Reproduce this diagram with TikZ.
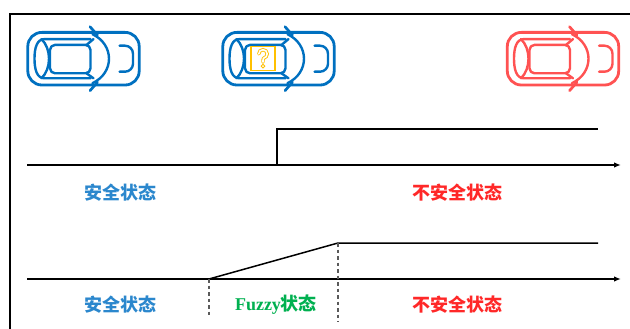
\documentclass[tikz,border=0pt]{standalone}
\usepackage{fontspec}
\setmainfont{Liberation Serif}
\newfontfamily\cjk{Noto Sans CJK SC}
\usetikzlibrary{arrows.meta}

\definecolor{carblue}{RGB}{0,112,192}
\definecolor{carred}{RGB}{255,82,82}
\definecolor{safeblue}{RGB}{43,135,205}
\definecolor{unsafered}{RGB}{255,40,40}
\definecolor{fuzzygreen}{RGB}{0,176,80}
\definecolor{qyellow}{RGB}{255,192,0}
\definecolor{dashgray}{RGB}{90,90,90}

\tikzset{
  % top view of a car, facing right, centred on the pic origin
  pics/car/.style={code={
    \begin{scope}[draw=#1, line cap=round, line join=round]
      % body
      \draw[line width=2.8pt, rounded corners=14pt] (-55.7,-26.3) rectangle (55.7,26.3);
      % inner side line wrapping round the rear
      \draw[line width=2.4pt] (7,-19.6) -- (-39,-19.6)
        .. controls (-46.5,-19.6) and (-49,-11) .. (-49,0)
        .. controls (-49,11) and (-46.5,19.6) .. (-39,19.6) -- (7,19.6);
      % rear window
      \draw[line width=2.4pt] (-42,-19.6) .. controls (-32,-10) and (-32,10) .. (-42,19.6);
      % roof
      \draw[line width=2.4pt, rounded corners=5pt] (-33.5,-13.8) rectangle (7,14.6);
      % A-pillars
      \draw[line width=2.4pt] (3,-13.8) -- (10,-19.6);
      \draw[line width=2.4pt] (3,14.6) -- (10,19.6);
      % windscreen
      \draw[line width=2.4pt] (9,-24.5) .. controls (31,-14) and (31,14) .. (9,24.5);
      % mirrors
      \draw[line width=2.7pt] (6.5,-32) -- (14,-23.5);
      \draw[line width=2.7pt] (6.5,32) -- (14,23.5);
      % bonnet
      \draw[line width=2.4pt, rounded corners=8pt] (36,-13) -- (49.5,-13) -- (49.5,13) -- (36,13);
    \end{scope}
  }},
  axisline/.style={line width=2.2pt, -{Latex[length=7pt,width=5.5pt]}},
  signal/.style={line width=1.5pt, line join=miter},
  guide/.style={draw=dashgray, line width=1.2pt, dash pattern=on 3.5pt off 3pt},
  statetext/.style={font=\cjk\bfseries\fontsize{18}{20}\selectfont, inner sep=0pt},
  qmark/.style={draw=qyellow, double=white, line width=0.9pt, double distance=1.6pt, line cap=round}
}

\begin{document}
\begin{tikzpicture}[x=1pt, y=-1pt]
  \useasboundingbox (0,0) rectangle (630,329);
  \clip (0,0) rectangle (630,329);

  % frame
  \coordinate (fbl) at (10,340);
  \coordinate (ftl) at (10,13.8);
  \coordinate (ftr) at (640,13.8);
  \draw[line width=2.5pt] (fbl) -- (ftl) -- (ftr);

  % cars
  \pic (carA) at (83.5,58.7) {car=carblue};
  \pic (carB) at (278.5,58.7) {car=carblue};
  \pic (carC) at (563,58.7) {car=carred};

  % uncertain driver marker
  \node (qbox) [draw=qyellow, line width=1.3pt, minimum size=24pt, inner sep=0pt, fill=white] at (263,58.5) {};
  \begin{scope}[shift={(qbox.center)}]
    \draw[qmark] (-4.2,-4.6) arc[start angle=180, end angle=400, radius=4.2]
      .. controls (0,0) .. (0,3.6);
    \draw[draw=qyellow, line width=0.9pt, fill=white] (0,7.6) circle[radius=1.8];
  \end{scope}

  % upper timeline: hard switch
  \coordinate (a1s) at (27,165);
  \coordinate (a1e) at (621,165);
  \coordinate (s1) at (277,165);
  \coordinate (s2) at (598,129);
  \draw[axisline] (a1s) -- (a1e);
  \draw[signal] (s1) |- (s2);
  \node (safe1) [statetext, text=safeblue] at (120,192.5) {安全状态};
  \node (unsafe1) [statetext, text=unsafered] at (457,192.5) {不安全状态};

  % lower timeline: fuzzy transition
  \coordinate (a2s) at (27,279);
  \coordinate (a2e) at (621,279);
  \coordinate (r1) at (209,279);
  \coordinate (r2) at (338,243);
  \coordinate (r3) at (598,243);
  \coordinate (d1) at (209,315);
  \coordinate (d2) at (338,322);
  \draw[axisline] (a2s) -- (a2e);
  \draw[signal] (r1) -- (r2) -- (r3);
  \draw[guide] (r1) -- (d1);
  \draw[guide] (r2) -- (d2);
  \node (safe2) [statetext, text=safeblue] at (120,305) {安全状态};
  \node (fuzzy) [statetext, text=fuzzygreen] at (276,305) {{\rmfamily\bfseries Fuzzy}状态};
  \node (unsafe2) [statetext, text=unsafered] at (457,305) {不安全状态};
\end{tikzpicture}
\end{document}
